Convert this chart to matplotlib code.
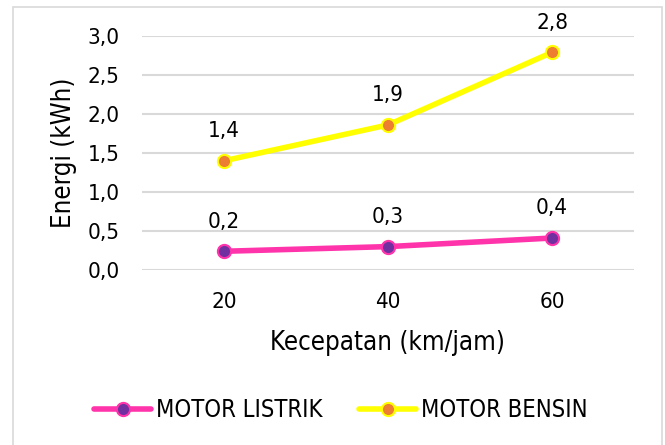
import matplotlib
matplotlib.use("Agg")
import matplotlib.pyplot as plt
from matplotlib.ticker import FuncFormatter
from matplotlib.patches import Rectangle

categories = ["20", "40", "60"]
listrik = [0.24, 0.30, 0.41]
bensin = [1.40, 1.86, 2.79]
yticks = [0.0, 0.5, 1.0, 1.5, 2.0, 2.5, 3.0]

plt.rcParams['font.family'] = ['DejaVu Sans']
plt.rcParams['font.stretch'] = 'condensed'

fig = plt.figure(figsize=(6.65, 4.45), dpi=100)
ax = fig.add_axes([142/665, 1-270/445, (634-142)/665, (270-36)/445])

x = list(range(len(categories)))
pink = "#ff33aa"
purple = "#7030a0"
yellow = "#ffff00"
orange = "#ed7d31"

ax.plot(x, listrik, color=pink, lw=4, marker='o', ms=9.5, mfc=purple, mec=pink, mew=1.5,
        label="MOTOR LISTRIK", solid_capstyle='round', zorder=3)
ax.plot(x, bensin, color=yellow, lw=4, marker='o', ms=9.5, mfc=orange, mec=yellow, mew=1.5,
        label="MOTOR BENSIN", solid_capstyle='round', zorder=3)

fmt = lambda v: f"{v:.1f}".replace(".", ",")
for xi, v in zip(x, listrik):
    ax.annotate(fmt(v), (xi, v), xytext=(0, 17), textcoords='offset points',
                ha='center', va='baseline', fontsize=16)
for xi, v in zip(x, bensin):
    ax.annotate(fmt(v), (xi, v), xytext=(0, 17), textcoords='offset points',
                ha='center', va='baseline', fontsize=16)

ax.set_xlim(-0.5, 2.5)
ax.set_ylim(0, 3.0)
ax.set_yticks(yticks)
ax.yaxis.set_major_formatter(FuncFormatter(lambda v, p: fmt(v)))
ax.set_xticks(x)
ax.set_xticklabels(categories)
ax.tick_params(axis='both', length=0, labelsize=16, colors='black')
ax.tick_params(axis='x', pad=16)
ax.tick_params(axis='y', pad=16)
for s in ax.spines.values():
    s.set_visible(False)
ax.grid(axis='y', color='#d9d9d9', lw=1.5)
ax.set_axisbelow(True)

ax.set_ylabel("Energi (kWh)", fontsize=18.5, va='center')
ax.yaxis.set_label_coords((64-142)/492, 0.5)
ax.set_xlabel("Kecepatan (km/jam)", fontsize=18.5, va='center')
ax.xaxis.set_label_coords(0.5, (270-343)/234)

leg = fig.legend(loc='center', bbox_to_anchor=(341/665, 1-410/445), ncol=2, frameon=False,
                 fontsize=17, handlelength=2.4, handletextpad=0.22, columnspacing=1.55,
                 borderpad=0, borderaxespad=0)

fig.patches.append(Rectangle((13/665, -0.01), (662-13)/665, 1-7/445 + 0.01, transform=fig.transFigure,
                             fill=False, edgecolor='#d9d9d9', lw=1.2))

fig.savefig("out.png", dpi=100)
